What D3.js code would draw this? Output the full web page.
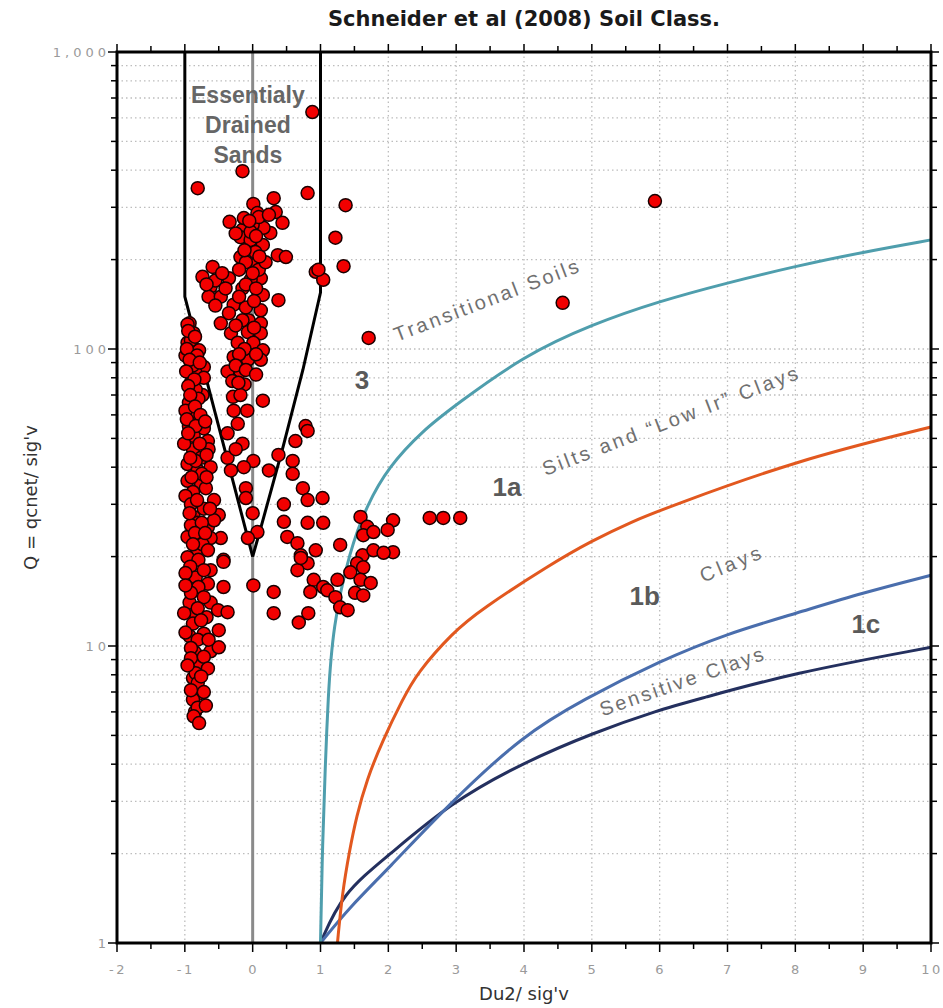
<!DOCTYPE html>
<html>
<head>
<meta charset="utf-8">
<script src="https://cdn.jsdelivr.net/npm/d3@7"></script>
<style>
  body { margin: 0; background: #ffffff; }
  svg { display: block; }
</style>
</head>
<body>
<svg id="chart" width="943" height="1008"></svg>
<script>
// ---- Axis ticks ----------------------------------------------------------
const xTickValues = [-2, -1, 0, 1, 2, 3, 4, 5, 6, 7, 8, 9, 10];
const xTickLabels = ["-2", "-1", "0", "1", "2", "3", "4", "5", "6", "7", "8", "9", "10"];
const yTickValues = [1, 10, 100, 1000];
const yTickLabels = ["1", "10", "100", "1,000"];

// ---- Zone boundaries (Du2/sig'v, Q) ---------------------------------------
const boundaryTransitional = [
  [1.0, 1], [1.03, 2.2], [1.07, 3.9], [1.11, 6.6], [1.18, 11.6], [1.43, 21], [1.69, 30],
  [2.0, 40], [2.5, 53], [3.0, 65], [4.0, 95], [5.0, 121], [6.0, 145], [7.0, 167],
  [8.0, 190], [9.0, 212], [10, 233]
];
const boundarySiltsLowIr = [
  [1.25, 1], [1.32, 1.47], [1.43, 2.06], [1.53, 2.66], [1.68, 3.54], [1.92, 4.83],
  [2.21, 6.6], [2.42, 8.1], [2.95, 11.1], [3.35, 13.2], [4.4, 18.9], [5.0, 22.6],
  [5.6, 26.3], [6.1, 29.2], [8.03, 42.3], [10, 54.6]
];
const boundaryClays = [
  [1.0, 1], [1.43, 1.32], [1.98, 1.76], [2.91, 2.96], [3.98, 5.0], [4.87, 6.6],
  [6.0, 8.9], [6.99, 11.0], [8.02, 12.9], [8.99, 15.1], [10, 17.3]
];
const boundarySensitive = [
  [1.0, 1], [1.32, 1.47], [1.98, 1.95], [2.91, 2.96], [3.98, 4.04], [5.02, 5.1],
  [6.0, 6.1], [6.55, 6.6], [7.95, 8.1], [10, 9.9]
];
// Essentially drained sands envelope
const zoneSandLeft = [[-1, 1000], [-1, 150], [0, 20]];
const zoneSandRight = [[1, 1000], [1, 155], [0.74, 85], [0.45, 47], [0.12, 25], [0, 20]];

// ---- CPT measurements (Du2/sig'v, Q) -----------------------------------
const cptPoints = [
  [0.88, 628], [-0.15, 397], [-0.81, 348], [0.81, 335], [1.37, 305], [0.01, 308], [0.31, 322],
  [-0.34, 268], [0.34, 289], [0.44, 266], [0.07, 287], [0.26, 246], [1.22, 237], [-0.15, 252],
  [-0.07, 220], [-0.18, 204], [0.37, 207], [0.49, 204], [0.07, 195], [1.34, 190], [0.93, 182],
  [1.04, 171], [0.97, 185], [-0.59, 189], [-0.74, 175], [-0.62, 162], [-0.35, 173], [-0.65, 150],
  [-0.47, 150], [-0.15, 160], [0.12, 173], [0.15, 152], [0.38, 146], [-0.28, 141], [-0.10, 138],
  [0.12, 135], [-0.35, 132], [-0.47, 122], [-0.06, 125], [0.12, 122], [-0.93, 122], [-0.32, 113],
  [-0.07, 114], [0.12, 113], [-0.87, 113], [-0.22, 105], [0.01, 105], [0.15, 99], [-0.79, 99],
  [-0.96, 105], [-0.28, 94], [-0.07, 92], [0.12, 92], [-0.91, 87], [-0.72, 87], [-0.37, 84],
  [-0.18, 84], [-0.84, 83], [-0.18, 238], [-0.03, 233], [0.15, 224], [0.04, 212], [-0.10, 196],
  [0.09, 185], [-0.03, 171], [0.19, 196], [0.16, 256], [0.0, 262], [-0.13, 276], [0.09, 278],
  [0.24, 283], [-0.03, 248], [1.71, 109], [4.57, 143], [5.93, 315],
  [-0.25, 245], [-0.05, 270], [0.05, 240], [-0.12, 215], [0.1, 205], [-0.2, 185], [0.0, 180],
  [-0.1, 165], [0.05, 160], [-0.2, 150], [0.02, 145], [-0.15, 125], [0.02, 118], [-0.25, 120],
  [-0.12, 100], [0.05, 96], [-0.2, 96], [-0.25, 88], [-0.1, 85], [0.05, 82], [-0.3, 78],
  [-0.12, 76], [-0.55, 170], [-0.45, 180], [-0.68, 165], [-0.4, 160], [-0.55, 140],
  // middle column
  [-0.29, 69], [-0.18, 70], [-0.21, 77], [0.15, 67], [-0.22, 56], [-0.37, 52], [-0.37, 43],
  [-0.32, 39], [0.01, 42], [-0.13, 40], [0.24, 39], [-0.10, 34], [-0.10, 31.5], [0.0, 28],
  [0.07, 24.2], [-0.07, 23.1], [-0.08, 62], [-0.28, 62], [-0.15, 48], [-0.25, 46],
  // left column
  [-0.96, 121], [-0.91, 107], [-0.99, 95], [-0.88, 88], [-0.91, 77], [-0.72, 80], [-0.74, 70],
  [-0.94, 66], [-0.87, 61], [-0.94, 55], [-0.72, 54], [-0.87, 51], [-0.66, 49], [-0.88, 46],
  [-0.76, 43], [-0.65, 46], [-0.96, 41], [-0.81, 39], [-0.62, 40], [-0.96, 36], [-0.76, 35],
  [-0.88, 33], [-0.99, 32], [-0.72, 29], [-0.50, 27.6], [-0.87, 27.2], [-0.81, 26], [-0.66, 25.2],
  [-0.57, 26.5], [-0.47, 23.1], [-0.62, 23.1], [-0.96, 23.3], [-0.81, 21], [-0.96, 19.9],
  [-0.43, 19.5], [-0.84, 73], [-0.99, 62], [-0.79, 57], [-1.01, 48], [-0.84, 42], [-0.69, 34],
  [-0.91, 30], [-0.74, 22], [-0.91, 25.5], [-0.57, 31],
  [-0.95, 115], [-0.85, 110], [-0.97, 100], [-0.82, 95], [-0.93, 92], [-0.78, 90], [-0.98, 84],
  [-0.86, 79], [-0.95, 75], [-0.80, 68], [-0.92, 70], [-0.85, 64], [-0.77, 60], [-0.97, 58],
  [-0.84, 55], [-0.70, 57], [-0.95, 52], [-0.78, 48], [-0.68, 44], [-0.92, 43], [-0.75, 38],
  [-0.90, 37], [-0.68, 37], [-0.82, 31], [-0.63, 29], [-0.93, 28], [-0.75, 26], [-0.85, 24],
  [-0.70, 24], [-0.88, 22], [-0.66, 21], [-0.80, 19.5], [-0.92, 18.5], [-0.62, 18], [-0.84, 17],
  [-0.66, 16.2], [-0.80, 15.8], [-0.93, 14], [-0.62, 14], [-0.84, 12.8], [-0.68, 12.5],
  [-0.93, 10.8], [-0.72, 11], [-0.85, 9.5], [-0.62, 9.6], [-0.78, 8.8], [-0.88, 7.8],
  [-0.80, 6.9], [-0.85, 6.0],
  // right of the sand envelope
  [0.38, 44], [0.63, 49], [0.78, 55], [0.81, 53], [0.59, 42], [0.59, 38], [0.74, 34], [0.81, 31],
  [1.03, 31.5], [0.46, 30], [0.46, 26.2], [0.81, 26], [1.04, 26], [0.51, 23.3], [0.66, 22.2],
  [0.71, 20.2], [0.93, 21], [0.81, 19], [0.66, 18], [0.71, 19.8], [0.90, 16.7], [0.85, 15.2],
  [1.04, 15.8], [1.10, 15.4], [1.22, 14.6], [1.25, 16.7], [1.29, 13.5], [1.40, 13.2], [0.68, 12],
  [0.82, 12.9], [0.01, 16], [0.31, 15.2], [0.31, 12.9], [-0.43, 15.8],
  // group near the transitional boundary
  [1.59, 27.2], [1.69, 25.2], [1.63, 23.6], [1.78, 24.2], [2.07, 26.5], [1.99, 24.6], [1.29, 21.9],
  [1.62, 20.2], [1.78, 21], [2.07, 20.7], [1.54, 19], [1.44, 17.7], [1.63, 18.4], [1.59, 16.7],
  [1.74, 16.3], [1.51, 15.1], [1.63, 14.8], [1.93, 20.6], [2.61, 27], [2.81, 27], [3.06, 27],
  // bottom of left column
  [-0.43, 19.2], [-0.72, 18], [-0.99, 17.6], [-0.91, 15.1], [-0.72, 14.6], [-1.01, 12.9],
  [-0.81, 13.4], [-0.51, 13.2], [-0.37, 13], [-0.88, 11.9], [-0.50, 11.3], [-0.81, 10.5],
  [-0.50, 9.9], [-0.91, 9.85], [-0.91, 9.1], [-0.72, 9.2], [-0.66, 8.4], [-0.84, 8.1],
  [-0.81, 7.5], [-0.72, 7.0], [-0.88, 6.6], [-0.81, 6.2], [-0.87, 5.8], [-0.79, 5.5],
  [-0.99, 16], [-0.76, 12.2], [-0.99, 11.1], [-0.65, 10.5], [-0.96, 8.6], [-0.76, 7.9],
  [-0.91, 7.1], [-0.69, 6.3]
];

// ---- Annotations (placed in data coordinates) ---------------------------
const zoneNames = [
  { text: "Transitional Soils", x: 3.44, q: 146, angle: -21, len: 196 },
  { text: "Silts and \u201CLow Ir\u201D Clays", x: 6.15, q: 57.3, angle: -21, len: 272 },
  { text: "Clays", x: 7.04, q: 18.9, angle: -22.6, len: 64 },
  { text: "Sensitive Clays", x: 6.32, q: 7.6, angle: -19.3, len: 172 }
];
const zoneCodes = [
  { text: "3", x: 1.61, q: 78.7 },
  { text: "1a", x: 3.75, q: 34.3 },
  { text: "1b", x: 5.78, q: 14.7 },
  { text: "1c", x: 9.04, q: 11.9 }
];
const sandLines = ["Essentialy", "Drained", "Sands"];
const sandLineQ = [716, 568, 450];

// ---- Layout -----------------------------------------------------------------
const svg = d3.select("#chart");
const plotLeft = 117, plotRight = 931, plotTop = 52, plotBottom = 943;
const x = d3.scaleLinear().domain([-2, 10]).range([plotLeft, plotRight]);
const y = d3.scaleLog().domain([1, 1000]).range([plotBottom, plotTop]);

// Title
svg.append("text")
  .attr("x", (plotLeft + plotRight) / 2).attr("y", 26)
  .attr("text-anchor", "middle")
  .attr("font-family", "DejaVu Sans, Verdana, sans-serif")
  .attr("font-weight", "bold").attr("font-size", 21)
  .attr("fill", "#1a1a1a")
  .text("Schneider et al (2008) Soil Class.");

// Grid
const grid = svg.append("g");
const yGridVals = [];
[1, 10, 100].forEach(k => d3.range(1, 10).forEach(m => { if (k * m > 1) yGridVals.push(k * m); }));
grid.selectAll("line.h").data(yGridVals).join("line")
  .attr("x1", plotLeft).attr("x2", plotRight)
  .attr("y1", d => y(d)).attr("y2", d => y(d))
  .attr("stroke", "#bdbdbd").attr("stroke-width", 1.3).attr("stroke-dasharray", "1.5,3");
grid.selectAll("line.v").data(d3.range(-1, 10)).join("line")
  .attr("x1", d => x(d)).attr("x2", d => x(d))
  .attr("y1", plotTop).attr("y2", plotBottom)
  .attr("stroke", "#bdbdbd").attr("stroke-width", 1.3).attr("stroke-dasharray", "1.5,3");

// x = 0 reference line
svg.append("line")
  .attr("x1", x(0)).attr("x2", x(0)).attr("y1", y(1000)).attr("y2", y(1))
  .attr("stroke", "#8a8a8a").attr("stroke-width", 3);

// Zone boundary curves
const curveLine = d3.line().x(d => x(d[0])).y(d => y(d[1])).curve(d3.curveBasis);
const polyLine = d3.line().x(d => x(d[0])).y(d => y(d[1]));
const curves = [
  { data: boundarySensitive, color: "#24305f" },
  { data: boundaryClays, color: "#4a6ead" },
  { data: boundarySiltsLowIr, color: "#e2581f" },
  { data: boundaryTransitional, color: "#4f9ead" }
];
svg.append("g").selectAll("path").data(curves).join("path")
  .attr("d", d => curveLine(d.data))
  .attr("fill", "none").attr("stroke", d => d.color).attr("stroke-width", 3);

svg.append("g").selectAll("path").data([zoneSandLeft, zoneSandRight]).join("path")
  .attr("d", polyLine)
  .attr("fill", "none").attr("stroke", "#000").attr("stroke-width", 3)
  .attr("stroke-linejoin", "round");

// Zone labels
const labelFont = "Liberation Sans, Arial, sans-serif";
svg.append("g").selectAll("text").data(sandLines).join("text")
  .attr("x", x(-0.07)).attr("y", (d, i) => y(sandLineQ[i]))
  .attr("text-anchor", "middle").attr("dominant-baseline", "central")
  .attr("font-family", labelFont).attr("font-weight", "bold").attr("font-size", 23)
  .attr("fill", "#666").text(d => d);

svg.append("text")
  .attr("x", x(-0.48)).attr("y", y(175))
  .attr("text-anchor", "middle").attr("dominant-baseline", "central")
  .attr("font-family", labelFont).attr("font-weight", "bold").attr("font-size", 22)
  .attr("fill", "#888").text("2");

svg.append("g").selectAll("text").data(zoneNames).join("text")
  .attr("transform", d => `translate(${x(d.x)},${y(d.q)}) rotate(${d.angle})`)
  .attr("text-anchor", "middle").attr("dominant-baseline", "central")
  .attr("font-family", labelFont).attr("font-size", 20)
  .attr("textLength", d => d.len).attr("lengthAdjust", "spacing")
  .attr("fill", "#707070").text(d => d.text);

svg.append("g").selectAll("text").data(zoneCodes).join("text")
  .attr("x", d => x(d.x)).attr("y", d => y(d.q))
  .attr("text-anchor", "middle").attr("dominant-baseline", "central")
  .attr("font-family", labelFont).attr("font-weight", "bold").attr("font-size", 26)
  .attr("fill", "#5a5a5a").text(d => d.text);

// Measurements
svg.append("g").selectAll("circle").data(cptPoints).join("circle")
  .attr("cx", d => x(d[0])).attr("cy", d => y(d[1])).attr("r", 6.5)
  .attr("fill", "#f20000").attr("stroke", "#1a0000").attr("stroke-width", 1.5);

// Axes frame and ticks
const tickColor = "#000";
const axisG = svg.append("g");
const halfSteps = d3.range(-2, 10.01, 0.5);
axisG.selectAll("line.bt").data(halfSteps).join("line")
  .attr("x1", d => x(d)).attr("x2", d => x(d))
  .attr("y1", plotBottom).attr("y2", d => plotBottom + (Number.isInteger(d) ? 9 : 6))
  .attr("stroke", tickColor).attr("stroke-width", 1.5);
axisG.selectAll("line.tt").data(halfSteps).join("line")
  .attr("x1", d => x(d)).attr("x2", d => x(d))
  .attr("y1", plotTop).attr("y2", d => plotTop - (Number.isInteger(d) ? 8 : 6))
  .attr("stroke", tickColor).attr("stroke-width", 1.5);
const yTickAll = [1];
[1, 10, 100].forEach(k => d3.range(2, 11).forEach(m => yTickAll.push(k * m)));
axisG.selectAll("line.lt").data(yTickAll).join("line")
  .attr("x1", plotLeft).attr("x2", d => plotLeft - (yTickValues.includes(d) ? 9 : 6))
  .attr("y1", d => y(d)).attr("y2", d => y(d))
  .attr("stroke", tickColor).attr("stroke-width", 1.5);
axisG.selectAll("line.rt").data(yTickAll).join("line")
  .attr("x1", plotRight).attr("x2", d => plotRight + (yTickValues.includes(d) ? 8 : 6))
  .attr("y1", d => y(d)).attr("y2", d => y(d))
  .attr("stroke", tickColor).attr("stroke-width", 1.5);
axisG.append("rect")
  .attr("x", plotLeft).attr("y", plotTop)
  .attr("width", plotRight - plotLeft).attr("height", plotBottom - plotTop)
  .attr("fill", "none").attr("stroke", "#000").attr("stroke-width", 3);

// Tick labels
const tickFont = "DejaVu Sans, Verdana, sans-serif";
svg.append("g").selectAll("text").data(xTickValues).join("text")
  .attr("x", d => x(d) + 1).attr("y", 969)
  .attr("text-anchor", "middle").attr("dominant-baseline", "central")
  .attr("font-family", tickFont).attr("font-size", 13).attr("letter-spacing", 2.5)
  .attr("fill", "#9a9a9a").text((d, i) => xTickLabels[i]);
svg.append("g").selectAll("text").data(yTickValues).join("text")
  .attr("x", 110).attr("y", d => y(d))
  .attr("text-anchor", "end").attr("dominant-baseline", "central")
  .attr("font-family", tickFont).attr("font-size", 13).attr("letter-spacing", 4)
  .attr("fill", "#9a9a9a").text((d, i) => yTickLabels[i]);

// Axis titles
svg.append("text")
  .attr("x", (plotLeft + plotRight) / 2).attr("y", 993)
  .attr("text-anchor", "middle").attr("dominant-baseline", "central")
  .attr("font-family", tickFont).attr("font-size", 18)
  .attr("fill", "#333").text("Du2/ sig'v");
svg.append("text")
  .attr("transform", `translate(30,${(plotTop + plotBottom) / 2}) rotate(-90)`)
  .attr("text-anchor", "middle").attr("dominant-baseline", "central")
  .attr("font-family", tickFont).attr("font-size", 18)
  .attr("fill", "#333").text("Q = qcnet/ sig'v");
</script>
</body>
</html>
